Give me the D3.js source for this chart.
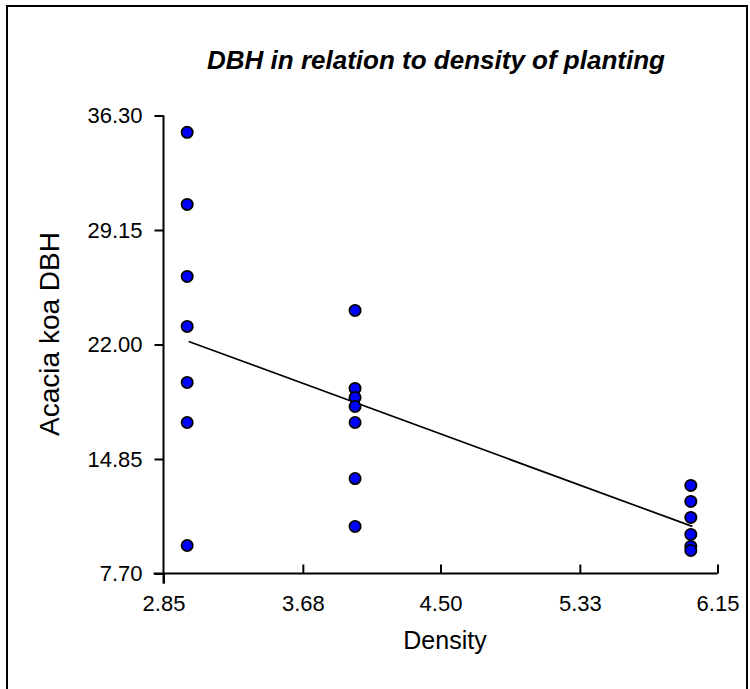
<!DOCTYPE html>
<html>
<head>
<meta charset="utf-8">
<script src="https://cdn.jsdelivr.net/npm/d3@7/dist/d3.min.js"></script>
<style>
  html, body { margin: 0; padding: 0; background: #fff; }
  svg { display: block; }
  text { font-family: "Liberation Sans", Arial, sans-serif; fill: #000; }
</style>
</head>
<body>
<svg id="chart" width="750" height="689"></svg>
<script>
// ---- data ----
const density3 = [35.25, 30.75, 26.25, 23.13, 19.63, 17.13, 9.45];
const density4 = [24.13, 19.26, 18.69, 18.13, 17.13, 13.63, 10.64];
const density6 = [13.20, 12.20, 11.20, 10.14, 9.39, 9.14];
const densityLevels = [3, 4, 6];
const fitX = [3, 6];
const fitY = [22.19, 10.64];
const xTicks = [2.85, 3.68, 4.50, 5.33, 6.15];
const yTicks = [7.70, 14.85, 22.00, 29.15, 36.30];
const titleText = "DBH in relation to density of planting";
const xLabel = "Density";
const yLabel = "Acacia koa DBH";

const points = [];
[density3, density4, density6].forEach((arr, i) => {
  arr.forEach(v => points.push({ x: densityLevels[i], y: v }));
});

const svg = d3.select("#chart");

// outer frame (extends below the visible area)
svg.append("rect")
  .attr("x", 7).attr("y", 6).attr("width", 740).attr("height", 720)
  .attr("fill", "none").attr("stroke", "#000").attr("stroke-width", 2);

const pLeft = 163.5, pRight = 717.5, pTop = 115.5, pBottom = 573.5;
const x = d3.scaleLinear().domain([2.85, 6.15]).range([pLeft, pRight]);
const y = d3.scaleLinear().domain([7.70, 36.30]).range([pBottom, pTop]);

const tickFont = 22;

// y axis
const yAxis = d3.axisLeft(y).tickValues(yTicks).tickFormat(d3.format(".2f"))
  .tickSize(9).tickPadding(12);
const gy = svg.append("g").attr("transform", `translate(${pLeft},0)`).call(yAxis);
gy.select(".domain").attr("stroke-width", 2).attr("d", `M0,${pTop}V${pBottom + 10}`);
gy.selectAll(".tick line").attr("stroke-width", 2);
gy.selectAll(".tick text").attr("font-size", tickFont).attr("font-family", "Liberation Sans, Arial, sans-serif");

// x axis
const xAxis = d3.axisBottom(x).tickValues(xTicks).tickFormat(d3.format(".2f"))
  .tickSize(9).tickPadding(13);
const gx = svg.append("g").attr("transform", `translate(0,${pBottom})`).call(xAxis);
gx.select(".domain").attr("stroke-width", 2).attr("d", `M${pLeft - 10},0H${pRight}`);
gx.selectAll(".tick line").attr("stroke-width", 2).attr("y1", -9).attr("y2", 0);
gx.selectAll(".tick text").attr("font-size", tickFont).attr("font-family", "Liberation Sans, Arial, sans-serif");
gx.selectAll(".tick").filter(d => d === 2.85).select("line").attr("y1", 0).attr("y2", 10);

// regression line
svg.append("line")
  .attr("x1", x(fitX[0])).attr("y1", y(fitY[0]))
  .attr("x2", x(fitX[1])).attr("y2", y(fitY[1]))
  .attr("stroke", "#000").attr("stroke-width", 1.7);

// points
svg.append("g").selectAll("circle").data(points).enter().append("circle")
  .attr("cx", d => x(d.x) - 1.5).attr("cy", d => y(d.y)).attr("r", 5.6)
  .attr("fill", "#0000ff").attr("stroke", "#000").attr("stroke-width", 1.8);

// title
svg.append("text").attr("x", 436).attr("y", 69).attr("text-anchor", "middle")
  .attr("font-size", 26).attr("font-weight", "bold").attr("font-style", "italic")
  .text(titleText);

// axis titles
svg.append("text").attr("x", 445).attr("y", 649).attr("text-anchor", "middle")
  .attr("font-size", 25).text(xLabel);
svg.append("text").attr("transform", "translate(59,334) rotate(-90)")
  .attr("text-anchor", "middle").attr("font-size", 28).text(yLabel);
</script>
</body>
</html>
